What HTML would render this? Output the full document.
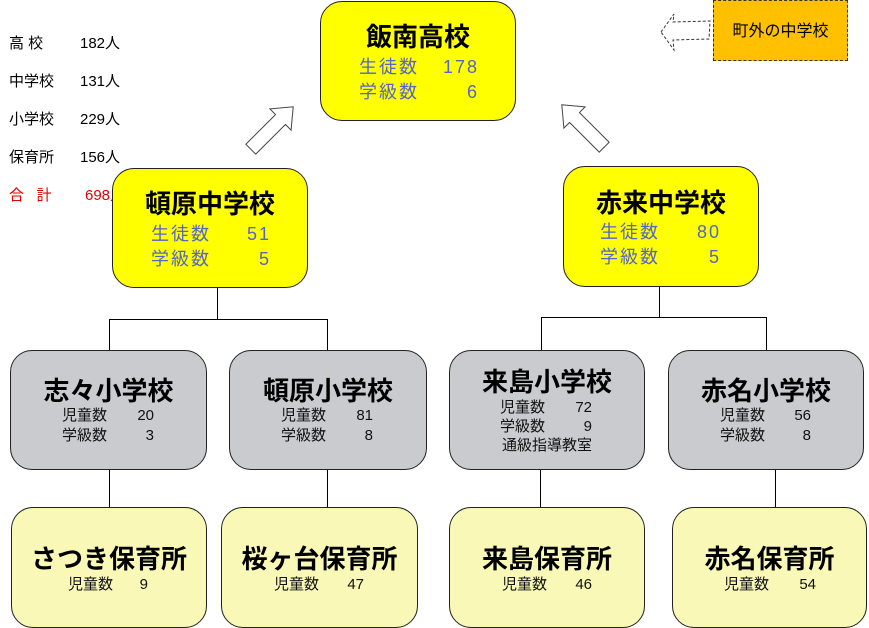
<!DOCTYPE html>
<html><head><meta charset="utf-8"><style>
body{margin:0;width:869px;height:628px;position:relative;background:#fff;overflow:hidden;font-family:"Liberation Sans","Noto Sans CJK JP",sans-serif;}
.b{position:absolute;box-sizing:border-box;border:1px solid #222;border-radius:22px;}
.y{background:#ffff00;}
.g{background:#c9cbce;}
.l{background:#f9f8b6;}
.t{position:absolute;left:-10px;right:-10px;text-align:center;font-weight:bold;font-size:26px;line-height:30px;color:#000;}
.r{position:absolute;display:flex;justify-content:space-between;white-space:nowrap;}
.bl{color:#5565c8;font-size:18px;line-height:24px;letter-spacing:2px;}
.sm{color:#111;font-size:15px;line-height:20px;}
.ln{position:absolute;background:#000;}
.side{position:absolute;left:9px;font-size:15px;line-height:20px;white-space:pre;}
.side span{position:absolute;left:71px;}
</style></head><body>

<div class="side" style="top:34px">高 校<span>182人</span></div>
<div class="side" style="top:72px">中学校<span>131人</span></div>
<div class="side" style="top:110px">小学校<span>229人</span></div>
<div class="side" style="top:148px">保育所<span>156人</span></div>
<div class="side" style="top:186px;color:#e00000">合   計<span style="left:76px">698人</span></div>

<div class="ln" style="left:217px;top:288px;width:1px;height:32px"></div>
<div class="ln" style="left:109px;top:319px;width:219px;height:1px"></div>
<div class="ln" style="left:109px;top:319px;width:1px;height:31px"></div>
<div class="ln" style="left:327px;top:319px;width:1px;height:31px"></div>
<div class="ln" style="left:659px;top:287px;width:1px;height:31px"></div>
<div class="ln" style="left:541px;top:317px;width:226px;height:1px"></div>
<div class="ln" style="left:541px;top:317px;width:1px;height:33px"></div>
<div class="ln" style="left:766px;top:317px;width:1px;height:33px"></div>
<div class="ln" style="left:109px;top:470px;width:1px;height:37px"></div>
<div class="ln" style="left:327px;top:470px;width:1px;height:37px"></div>
<div class="ln" style="left:540px;top:470px;width:1px;height:37px"></div>
<div class="ln" style="left:775px;top:470px;width:1px;height:37px"></div>

<svg style="position:absolute;left:0;top:0" width="869" height="628">
<g transform="translate(272,128) rotate(45)" fill="#fff" stroke="#444" stroke-width="1">
<polygon points="0,-30 15,-12 7,-12 7,30 -7,30 -7,-12 -15,-12"/></g>
<g transform="translate(583,126) rotate(-45)" fill="#fff" stroke="#444" stroke-width="1">
<polygon points="0,-30 15,-12 7,-12 7,30 -7,30 -7,-12 -15,-12"/></g>
<polygon points="661,32 674,14 673,22 710,21 709,39 673,40 674,50" fill="#fff" stroke="#333" stroke-width="1" stroke-dasharray="3,2"/>
</svg>

<div style="position:absolute;left:713px;top:0;width:135px;height:61px;box-sizing:border-box;background:#ffc000;border:1px dashed #333;font-size:16px;line-height:61px;text-align:center">町外の中学校</div>

<div class="b y" style="left:320px;top:1px;width:196px;height:120px">
<div class="t" style="top:20px">飯南高校</div>
<div class="r bl" style="left:38px;width:120px;top:53px"><span>生徒数</span><span>178</span></div>
<div class="r bl" style="left:38px;width:120px;top:78px"><span>学級数</span><span>6</span></div>
</div>

<div class="b y" style="left:112px;top:168px;width:196px;height:120px">
<div class="t" style="top:20px">頓原中学校</div>
<div class="r bl" style="left:38px;width:120px;top:53px"><span>生徒数</span><span>51</span></div>
<div class="r bl" style="left:38px;width:120px;top:78px"><span>学級数</span><span>5</span></div>
</div>

<div class="b y" style="left:563px;top:166px;width:196px;height:121px">
<div class="t" style="top:21px">赤来中学校</div>
<div class="r bl" style="left:36px;width:121px;top:53px"><span>生徒数</span><span>80</span></div>
<div class="r bl" style="left:36px;width:121px;top:78px"><span>学級数</span><span>5</span></div>
</div>

<div class="b g" style="left:10px;top:350px;width:197px;height:120px">
<div class="t" style="top:25px">志々小学校</div>
<div class="r sm" style="left:51px;width:92px;top:55px"><span>児童数</span><span>20</span></div>
<div class="r sm" style="left:51px;width:92px;top:75px"><span>学級数</span><span>3</span></div>
</div>
<div class="b g" style="left:229px;top:350px;width:198px;height:120px">
<div class="t" style="top:25px">頓原小学校</div>
<div class="r sm" style="left:51px;width:92px;top:55px"><span>児童数</span><span>81</span></div>
<div class="r sm" style="left:51px;width:92px;top:75px"><span>学級数</span><span>8</span></div>
</div>
<div class="b g" style="left:449px;top:350px;width:196px;height:120px">
<div class="t" style="top:16px">来島小学校</div>
<div class="r sm" style="left:50px;width:92px;top:47px"><span>児童数</span><span>72</span></div>
<div class="r sm" style="left:50px;width:92px;top:66px"><span>学級数</span><span>9</span></div>
<div class="sm" style="position:absolute;left:0;right:0;text-align:center;top:85px">通級指導教室</div>
</div>
<div class="b g" style="left:668px;top:350px;width:196px;height:120px">
<div class="t" style="top:25px">赤名小学校</div>
<div class="r sm" style="left:51px;width:91px;top:55px"><span>児童数</span><span>56</span></div>
<div class="r sm" style="left:51px;width:91px;top:75px"><span>学級数</span><span>8</span></div>
</div>

<div class="b l" style="left:11px;top:507px;width:196px;height:121px">
<div class="t" style="top:36px">さつき保育所</div>
<div class="r sm" style="left:56px;width:80px;top:67px"><span>児童数</span><span>9</span></div>
</div>
<div class="b l" style="left:221px;top:507px;width:197px;height:121px">
<div class="t" style="top:36px">桜ヶ台保育所</div>
<div class="r sm" style="left:52px;width:90px;top:67px"><span>児童数</span><span>47</span></div>
</div>
<div class="b l" style="left:449px;top:507px;width:196px;height:121px">
<div class="t" style="top:36px">来島保育所</div>
<div class="r sm" style="left:52px;width:90px;top:67px"><span>児童数</span><span>46</span></div>
</div>
<div class="b l" style="left:672px;top:507px;width:195px;height:121px">
<div class="t" style="top:36px">赤名保育所</div>
<div class="r sm" style="left:51px;width:92px;top:67px"><span>児童数</span><span>54</span></div>
</div>

</body></html>
